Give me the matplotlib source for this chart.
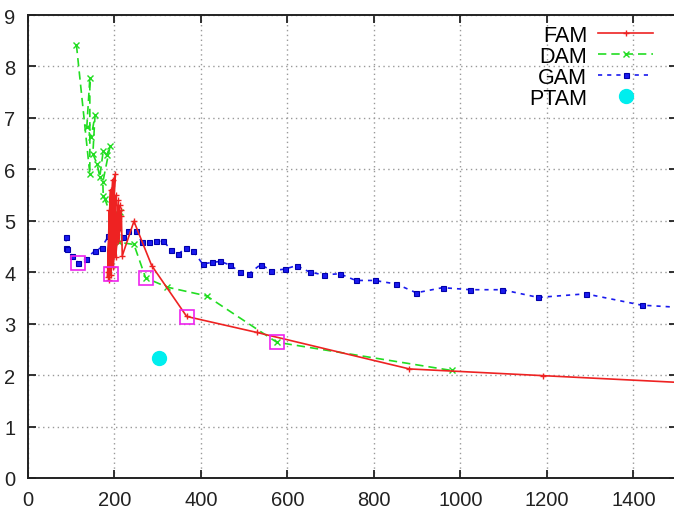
import matplotlib
matplotlib.use("Agg")
import matplotlib.pyplot as plt

plt.rcParams['font.family'] = ['Liberation Sans', 'DejaVu Sans']

# ---- data ----
fam_x = [186, 188, 184, 191, 186, 193, 188, 196, 190, 198, 192, 201, 195, 204, 197, 207,
         200, 209, 203, 212, 206, 215, 209, 216, 218, 245, 286, 367, 529, 882, 1190, 1500]
fam_y = [4.10, 5.20, 3.90, 5.60, 4.00, 5.00, 3.85, 5.80, 4.20, 5.30, 3.95, 5.90, 4.40, 5.50,
         4.10, 5.10, 4.60, 5.40, 4.30, 5.30, 4.80, 5.20, 4.60, 5.10, 4.32, 4.99, 4.13, 3.14,
         2.83, 2.12, 1.99, 1.86]

dam_x = [112, 143, 143, 136, 146, 155, 150, 160, 166, 174, 182, 190, 173, 174, 178, 193,
         205, 213, 211, 245, 272, 322, 413, 575, 980]
dam_y = [8.42, 5.91, 7.77, 6.82, 6.62, 7.05, 6.30, 6.10, 5.85, 6.36, 6.27, 6.46, 5.75, 5.49,
         5.42, 5.07, 5.16, 5.17, 4.58, 4.54, 3.89, 3.71, 3.54, 2.64, 2.09]

gam_x = [88, 88, 91, 101, 116, 134, 155, 170, 186, 205, 219, 232, 250, 263, 280, 297, 313,
         331, 348, 365, 382, 404, 425, 445, 467, 490, 511, 538, 563, 594, 621, 652, 684, 721,
         758, 802, 852, 898, 959, 1023, 1097, 1180, 1290, 1419, 1500]
gam_y = [4.68, 4.48, 4.45, 4.32, 4.18, 4.26, 4.42, 4.48, 4.70, 4.87, 4.69, 4.80, 4.80, 4.58,
         4.58, 4.60, 4.60, 4.44, 4.35, 4.48, 4.41, 4.16, 4.19, 4.21, 4.14, 4.01, 3.97, 4.15,
         4.03, 4.06, 4.13, 4.00, 3.95, 3.97, 3.84, 3.84, 3.77, 3.60, 3.70, 3.66, 3.66, 3.51,
         3.58, 3.36, 3.32]

ptam_x = [303]
ptam_y = [2.33]

key_x = [116, 192, 272, 368, 575]
key_y = [4.17, 3.97, 3.89, 3.12, 2.64]

x_ticks = [0, 200, 400, 600, 800, 1000, 1200, 1400]
y_ticks = [0, 1, 2, 3, 4, 5, 6, 7, 8, 9]

# ---- figure ----
W, H = 674, 510
fig = plt.figure(figsize=(W / 100, H / 100), dpi=100)
left, right, bottom, top = 28, 676.6, 479, 16
ax = fig.add_axes([left / W, (H - bottom) / H, (right - left) / W, (bottom - top) / H])

ax.plot(fam_x, fam_y, color='#ee2222', lw=1.2, marker='+', ms=5, mew=1.0, label='FAM', zorder=4)
ax.plot(dam_x, dam_y, color='#22dd22', lw=1.2, ls=(0, (5, 3)), marker='x', ms=4, mew=1.0,
        label='DAM', zorder=3)
ax.plot(gam_x, gam_y, color='#1a1aee', lw=1.2, ls=(0, (2.5, 3)), marker='s', ms=3.6, mew=0.8,
        mec='#0000aa', label='GAM', zorder=3)
ax.plot(ptam_x, ptam_y, ls='none', marker='o', ms=10, color='#00eeee', mec='#00eeee',
        label='PTAM', zorder=5)
ax.plot(key_x, key_y, ls='none', marker='s', ms=10, mfc='none', mec='#ee22ee', mew=1.2,
        zorder=6)

ax.set_xlim(0, 1500)
ax.set_ylim(0, 9)
ax.set_xticks(x_ticks)
ax.set_yticks(y_ticks)
ax.tick_params(direction='in', length=6, width=1.3, top=True, right=True,
               labelsize=14.5, colors='#222222')
ax.tick_params(axis='y', pad=9)
ax.tick_params(axis='x', pad=9)
ax.grid(True, color='#999999', ls=(0, (1, 2.5)), lw=1.0)
for s in ax.spines.values():
    s.set_linewidth(1.4)
    s.set_color('#222222')

leg = ax.legend(loc='upper right', bbox_to_anchor=(653 / W, (H - 26) / H),
                bbox_transform=fig.transFigure, frameon=False, markerfirst=False,
                numpoints=1, fontsize=15.5, handlelength=2.55, handletextpad=0.5,
                labelspacing=0.0, borderpad=0, borderaxespad=0)

fig.savefig('out.png', dpi=100)
